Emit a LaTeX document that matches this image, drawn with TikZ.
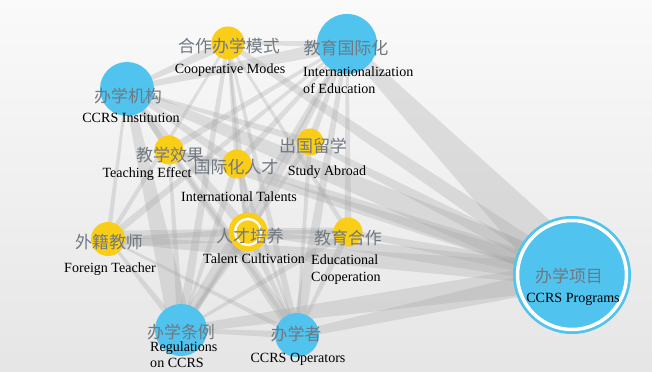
\documentclass[tikz,border=0pt]{standalone}
\usepackage{fontspec}
\setmainfont{Liberation Serif}
\newfontfamily\cjk{Noto Sans CJK SC}
\usetikzlibrary{calc}

\definecolor{hubblue}{RGB}{80,195,238}
\definecolor{topicgold}{RGB}{250,205,22}
\definecolor{zhgray}{RGB}{112,120,130}

\pgfdeclarelayer{bg}
\pgfdeclarelayer{edges}
\pgfsetlayers{bg,edges,main}

\tikzset{
  hub/.style={circle, fill=hubblue, inner sep=0pt, minimum size=#1*0.6mm},
  topic/.style={circle, fill=topicgold, inner sep=0pt, minimum size=#1*0.6mm},
  zh/.style={font=\cjk\fontsize{14.5}{16}\selectfont, text=zhgray, inner sep=0pt},
  en/.style={font=\fontsize{12}{14}\selectfont, inner sep=0pt},
  link/.style={fill=gray!70, opacity=0.3},
}

\begin{document}
\begin{tikzpicture}[x=0.03cm, y=-0.03cm]
\useasboundingbox (0,0) rectangle (652,372);
\begin{pgfonlayer}{bg}
  \shade[top color=white!98!black, bottom color=white!90!black] (0,0) rectangle (652,372);
\end{pgfonlayer}

% blue hubs
\node[hub=27] (ins) at (127,89) {};
\node[hub=30] (int) at (347,44) {};
\node[hub=26] (reg) at (181,330) {};
\node[hub=22] (op)  at (297,335) {};
\node[hub=59] (prg) at (572,275) {};
\draw[white, line width=3pt] (prg.center) circle [radius=54.5];

% yellow topics
\node[topic=16.5] (mod) at (228,43) {};
\node[topic=14.5] (te)  at (169,150) {};
\node[topic=14.5] (it)  at (237,164) {};
\node[topic=13.5] (sa)  at (310,142) {};
\node[topic=17]   (ft)  at (108,239) {};
\node[topic=19.5] (tc)  at (248,232) {};
\node[topic=14.5] (ec)  at (348,232) {};
\draw[white, line width=2pt] (tc.center) circle [radius=13];

% links, narrow at the first node and wide at the second
\begin{pgfonlayer}{edges}
\foreach \from/\to/\ws/\wt in {
    int/prg/4/22, ins/prg/3/12, mod/prg/2/8, sa/prg/2/7, it/prg/2/8,
    te/prg/1.5/7, ft/prg/3/10, tc/prg/2/9, ec/prg/2/7, reg/prg/3/12,
    op/prg/3/10, ins/reg/3/10, ft/ec/7/4, ins/int/2/6, ins/mod/1.5/4,
    ins/te/1/3, ins/it/1.5/4, ins/tc/1.5/4, ins/op/1.5/5, ins/sa/1/3,
    ins/ft/1/2, int/reg/1.5/5, int/op/1.5/5, int/tc/1.5/4, int/it/1/3,
    int/te/1/3, int/ft/1/3, int/ec/1/3, int/sa/1/3, mod/reg/1.5/4,
    mod/op/1/3, mod/tc/1/3, mod/int/1/3, mod/ft/1/2, mod/ec/1/2,
    mod/it/1/2, reg/op/1.5/3, reg/tc/1.5/4, reg/it/1/3, reg/sa/1/2,
    reg/ec/1/3, ft/reg/1/3, ft/tc/1/3, ft/op/1/2, op/tc/1/3,
    op/ec/1/3, op/sa/1/2, op/it/1/2, te/reg/1/3, te/op/1/2,
    te/it/0.7/2, tc/ec/1/2, it/tc/0.7/2}
  \fill[link] ($(\from)!\ws pt!90:(\to)$) -- ($(\to)!\wt pt!-90:(\from)$)
    -- ($(\to)!\wt pt!90:(\from)$) -- ($(\from)!\ws pt!-90:(\to)$) -- cycle;
\end{pgfonlayer}

% labels
\node[zh] (mod-zh) at (229,46) {合作办学模式};
\node[en] (mod-en) at (230,70) {Cooperative Modes};
\node[zh] (int-zh) at (346,48) {教育国际化};
\node[en, anchor=west, align=left] (int-en) at (303,80) {Internationalization\\of Education};
\node[zh] (ins-zh) at (128,96) {办学机构};
\node[en] (ins-en) at (131,118) {CCRS Institution};
\node[zh] (te-zh) at (170,155) {教学效果};
\node[en] (te-en) at (147,174) {Teaching Effect};
\node[zh] (it-zh) at (236,167) {国际化人才};
\node[en] (it-en) at (239,197) {International Talents};
\node[zh] (sa-zh) at (313,146) {出国留学};
\node[en] (sa-en) at (327,172) {Study Abroad};
\node[zh] (ft-zh) at (109,242) {外籍教师};
\node[en] (ft-en) at (110,269) {Foreign Teacher};
\node[zh] (tc-zh) at (250,236) {人才培养};
\node[en] (tc-en) at (254,259) {Talent Cultivation};
\node[zh] (ec-zh) at (348,238) {教育合作};
\node[en, anchor=west, align=left] (ec-en) at (311,269.5) {Educational\\Cooperation};
\node[zh] (reg-zh) at (181,332) {办学条例};
\node[en, anchor=west, align=left] (reg-en) at (150,354.5) {Regulations\\on CCRS};
\node[zh] (op-zh) at (296,334) {办学者};
\node[en] (op-en) at (298,359) {CCRS Operators};
\node[zh] (prg-zh) at (569,276) {办学项目};
\node[en] (prg-en) at (573,299) {CCRS Programs};
\end{tikzpicture}
\end{document}
